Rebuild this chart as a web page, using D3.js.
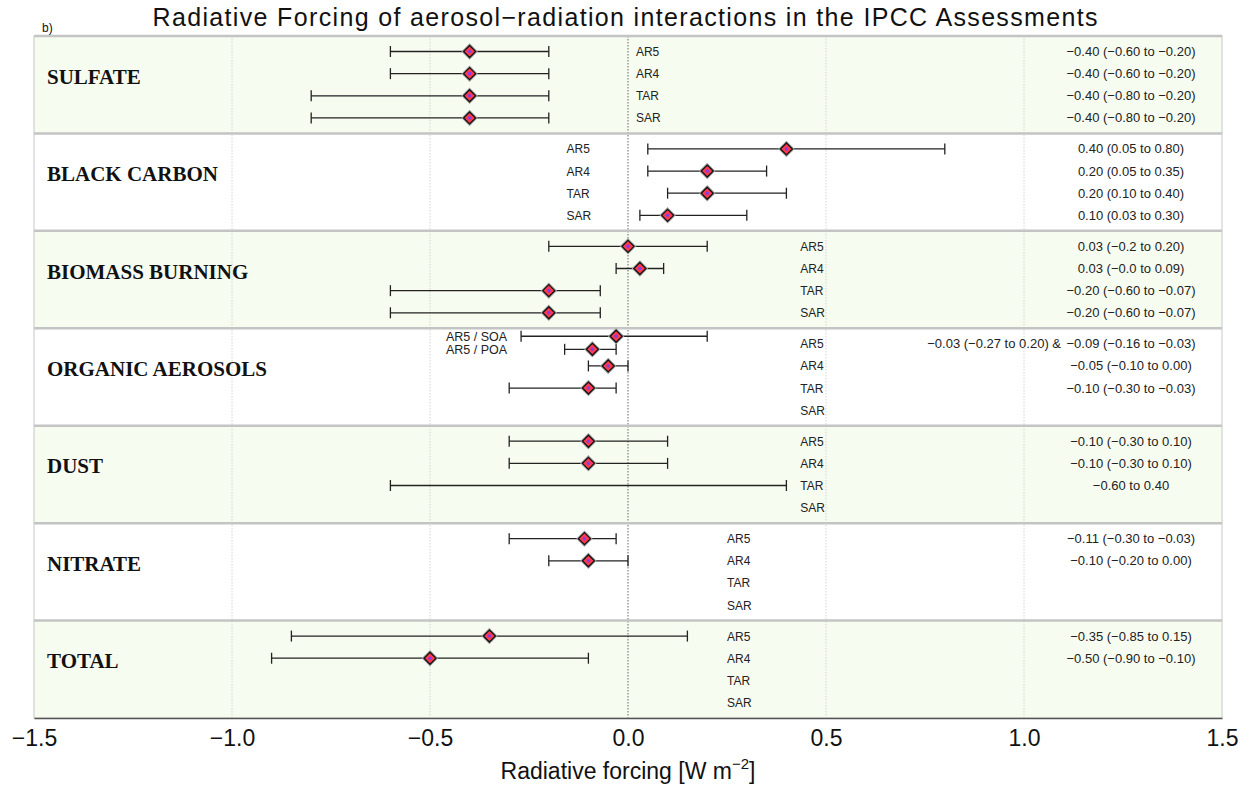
<!DOCTYPE html>
<html>
<head>
<meta charset="utf-8">
<script src="https://cdn.jsdelivr.net/npm/d3@7"></script>
<style>
  body { margin: 0; background: #fff; }
  svg { display: block; }
</style>
</head>
<body>
<div class="chart"></div>
<script>
// data
const categories = ['SULFATE', 'BLACK CARBON', 'BIOMASS BURNING', 'ORGANIC AEROSOLS', 'DUST', 'NITRATE', 'TOTAL'];
const assessments = ['AR5', 'AR4', 'TAR', 'SAR'];

// best estimate per category, rows AR5 / AR4 / TAR / SAR (null = no diamond)
const best = [
    [-0.40, -0.40, -0.40, -0.40],
    [0.40, 0.20, 0.20, 0.10],
    [0.00, 0.03, -0.20, -0.20],
    [null, -0.05, -0.10, null],
    [-0.10, -0.10, null, null],
    [-0.11, -0.10, null, null],
    [-0.35, -0.50, null, null]
];
const low = [
    [-0.60, -0.60, -0.80, -0.80],
    [0.05, 0.05, 0.10, 0.03],
    [-0.20, -0.03, -0.60, -0.60],
    [null, -0.10, -0.30, null],
    [-0.30, -0.30, -0.60, null],
    [-0.30, -0.20, null, null],
    [-0.85, -0.90, null, null]
];
const high = [
    [-0.20, -0.20, -0.20, -0.20],
    [0.80, 0.35, 0.40, 0.30],
    [0.20, 0.09, -0.07, -0.07],
    [null, 0.00, -0.03, null],
    [0.10, 0.10, 0.40, null],
    [-0.03, 0.00, null, null],
    [0.15, -0.10, null, null]
];
const rangeText = [
    ['\u22120.40 (\u22120.60 to \u22120.20)', '\u22120.40 (\u22120.60 to \u22120.20)', '\u22120.40 (\u22120.80 to \u22120.20)', '\u22120.40 (\u22120.80 to \u22120.20)'],
    ['0.40 (0.05 to 0.80)', '0.20 (0.05 to 0.35)', '0.20 (0.10 to 0.40)', '0.10 (0.03 to 0.30)'],
    ['0.03 (\u22120.2 to 0.20)', '0.03 (\u22120.0 to 0.09)', '\u22120.20 (\u22120.60 to \u22120.07)', '\u22120.20 (\u22120.60 to \u22120.07)'],
    ['\u22120.09 (\u22120.16 to \u22120.03)', '\u22120.05 (\u22120.10 to 0.00)', '\u22120.10 (\u22120.30 to \u22120.03)', ''],
    ['\u22120.10 (\u22120.30 to 0.10)', '\u22120.10 (\u22120.30 to 0.10)', '\u22120.60 to 0.40', ''],
    ['\u22120.11 (\u22120.30 to \u22120.03)', '\u22120.10 (\u22120.20 to 0.00)', '', ''],
    ['\u22120.35 (\u22120.85 to 0.15)', '\u22120.50 (\u22120.90 to \u22120.10)', '', '']
];

// organic aerosols AR5 is split in two
const organicParts = ['AR5 / SOA', 'AR5 / POA'];
const organicBest = [-0.03, -0.09];
const organicLow = [-0.27, -0.16];
const organicHigh = [0.20, -0.03];
const organicSoaText = '\u22120.03 (\u22120.27 to 0.20) &';

const xTicks = [-1.5, -1.0, -0.5, 0.0, 0.5, 1.0, 1.5];

// layout
const W = 1255, H = 786;
const plot = { left: 34, right: 1222, top: 36, bottom: 718 };
const assessLabelX = [0.02, -0.155, 0.435, 0.435, 0.435, 0.25, 0.25]; // in W m-2 units
const rowOffsets = [0.7, 1.7, 2.7, 3.7];
const subRowOffsets = [0.36, 0.95];

const svg = d3.select('.chart').append('svg')
    .attr('width', W)
    .attr('height', H)
    .style('font-family', '"Liberation Sans", Arial, sans-serif');

const x = d3.scaleLinear().domain([-1.5, 1.5]).range([plot.left, plot.right]);
const band = d3.scaleBand().domain(categories).range([plot.top, plot.bottom]);
const row = d3.scaleLinear().domain([0, 4.4]).range([0, band.bandwidth()]);

// panel backgrounds
svg.selectAll('rect.panel')
    .data(categories)
    .enter()
    .append('rect')
    .attr('class', 'panel')
    .attr('x', plot.left)
    .attr('y', d => band(d))
    .attr('width', plot.right - plot.left)
    .attr('height', band.bandwidth())
    .attr('fill', (d, i) => i % 2 === 0 ? '#f7fcf1' : '#ffffff');

// vertical grid
svg.selectAll('line.grid')
    .data(xTicks.filter(t => Math.abs(t) < 1.5))
    .enter()
    .append('line')
    .attr('x1', d => x(d))
    .attr('x2', d => x(d))
    .attr('y1', plot.top)
    .attr('y2', plot.bottom)
    .attr('stroke', d => d === 0 ? '#666' : '#d4d4d4')
    .attr('stroke-width', 1)
    .attr('stroke-dasharray', '1.5,1.5');

// frame
svg.append('rect')
    .attr('x', plot.left)
    .attr('y', plot.top)
    .attr('width', plot.right - plot.left)
    .attr('height', plot.bottom - plot.top)
    .attr('fill', 'none')
    .attr('stroke', '#c8c8c8')
    .attr('stroke-width', 1);

// panel separators
svg.selectAll('line.sep')
    .data(categories)
    .enter()
    .append('line')
    .attr('x1', plot.left)
    .attr('x2', plot.right)
    .attr('y1', d => band(d))
    .attr('y2', d => band(d))
    .attr('stroke', '#c4c4c4')
    .attr('stroke-width', 2.5);

// category names
svg.selectAll('text.cat')
    .data(categories)
    .enter()
    .append('text')
    .attr('x', 47)
    .attr('y', d => band(d) + row(1.7) + 10)
    .attr('font-family', '"Liberation Serif", "Times New Roman", serif')
    .attr('font-weight', 'bold')
    .attr('font-size', 21)
    .attr('fill', '#111')
    .text(d => d);

// flatten rows
const rows = [];
categories.forEach((c, ci) => {
    assessments.forEach((a, ai) => {
        rows.push({
            cat: c, ci: ci, name: a,
            y: band(c) + row(rowOffsets[ai]),
            best: best[ci][ai], low: low[ci][ai], high: high[ci][ai],
            label: rangeText[ci][ai]
        });
    });
});
organicParts.forEach((p, i) => {
    rows.push({
        cat: categories[3], ci: 3, name: p, sub: true,
        y: band(categories[3]) + row(subRowOffsets[i]),
        best: organicBest[i], low: organicLow[i], high: organicHigh[i], label: ''
    });
});

// assessment labels
svg.selectAll('text.ass')
    .data(rows.filter(d => !d.sub))
    .enter()
    .append('text')
    .attr('x', d => x(assessLabelX[d.ci]))
    .attr('y', d => d.y + 4.5)
    .attr('font-size', 12)
    .attr('fill', '#222')
    .text(d => d.name);

svg.selectAll('text.sub')
    .data(rows.filter(d => d.sub))
    .enter()
    .append('text')
    .attr('x', 446)
    .attr('y', d => d.y + 4.5)
    .attr('font-size', 12.5)
    .attr('fill', '#222')
    .text(d => d.name);

// range text on the right
svg.selectAll('text.range')
    .data(rows.filter(d => d.label))
    .enter()
    .append('text')
    .attr('x', 1131)
    .attr('y', d => d.y + 4.5)
    .attr('text-anchor', 'middle')
    .attr('font-size', 13)
    .attr('fill', '#222')
    .text(d => d.label);

svg.append('text')
    .attr('x', 1061)
    .attr('y', band(categories[3]) + row(rowOffsets[0]) + 4.5)
    .attr('text-anchor', 'end')
    .attr('font-size', 13)
    .attr('fill', '#222')
    .text(organicSoaText);

// error bars
const bars = rows.filter(d => d.low != null);
svg.selectAll('line.bar')
    .data(bars)
    .enter()
    .append('line')
    .attr('x1', d => x(d.low))
    .attr('x2', d => x(d.high))
    .attr('y1', d => d.y)
    .attr('y2', d => d.y)
    .attr('stroke', '#222')
    .attr('stroke-width', 1.3);

const caps = [];
bars.forEach(d => { caps.push({ v: d.low, y: d.y }); caps.push({ v: d.high, y: d.y }); });
svg.selectAll('line.cap')
    .data(caps)
    .enter()
    .append('line')
    .attr('x1', d => x(d.v))
    .attr('x2', d => x(d.v))
    .attr('y1', d => d.y - 5.5)
    .attr('y2', d => d.y + 5.5)
    .attr('stroke', '#222')
    .attr('stroke-width', 1.3);

// diamonds
const pts = rows.filter(d => d.best != null);
const diamond = 'M0,-6L6,0L0,6L-6,0Z';
const marks = svg.selectAll('g.pt')
    .data(pts)
    .enter()
    .append('g')
    .attr('transform', d => `translate(${x(d.best)},${d.y})`);

marks.append('path')
    .attr('d', diamond)
    .attr('fill', 'none')
    .attr('stroke', '#a0a0a0')
    .attr('stroke-width', 3.2);
marks.append('path')
    .attr('d', diamond)
    .attr('fill', '#ff3a4c')
    .attr('stroke', '#111')
    .attr('stroke-width', 1.3);
marks.append('circle')
    .attr('r', 1.8)
    .attr('fill', '#8a3ce0');

// x axis
const axis = svg.append('g')
    .attr('transform', `translate(0,${plot.bottom})`)
    .call(d3.axisBottom(x).tickValues(xTicks).tickFormat(d3.format('.1f')).tickSize(0).tickPadding(12));
axis.select('.domain').attr('stroke', '#555').attr('stroke-width', 1.5);
axis.selectAll('text')
    .attr('font-family', '"Liberation Sans", Arial, sans-serif')
    .attr('font-size', 23)
    .attr('fill', '#111');

const xl = svg.append('text')
    .attr('x', x(0))
    .attr('y', 779)
    .attr('text-anchor', 'middle')
    .attr('font-size', 23)
    .attr('fill', '#111');
xl.append('tspan').text('Radiative forcing [W m');
xl.append('tspan').attr('font-size', 15).attr('dy', -10).text('\u22122');
xl.append('tspan').attr('dy', 10).text(']');

// title
svg.append('text')
    .attr('x', 625)
    .attr('y', 26)
    .attr('text-anchor', 'middle')
    .attr('font-size', 25)
    .attr('textLength', 945)
    .attr('lengthAdjust', 'spacing')
    .attr('fill', '#111')
    .text('Radiative Forcing of aerosol\u2212radiation interactions in the IPCC Assessments');

svg.append('text')
    .attr('x', 42)
    .attr('y', 32)
    .attr('font-size', 12)
    .attr('fill', '#111')
    .text('b)');
</script>
</body>
</html>
